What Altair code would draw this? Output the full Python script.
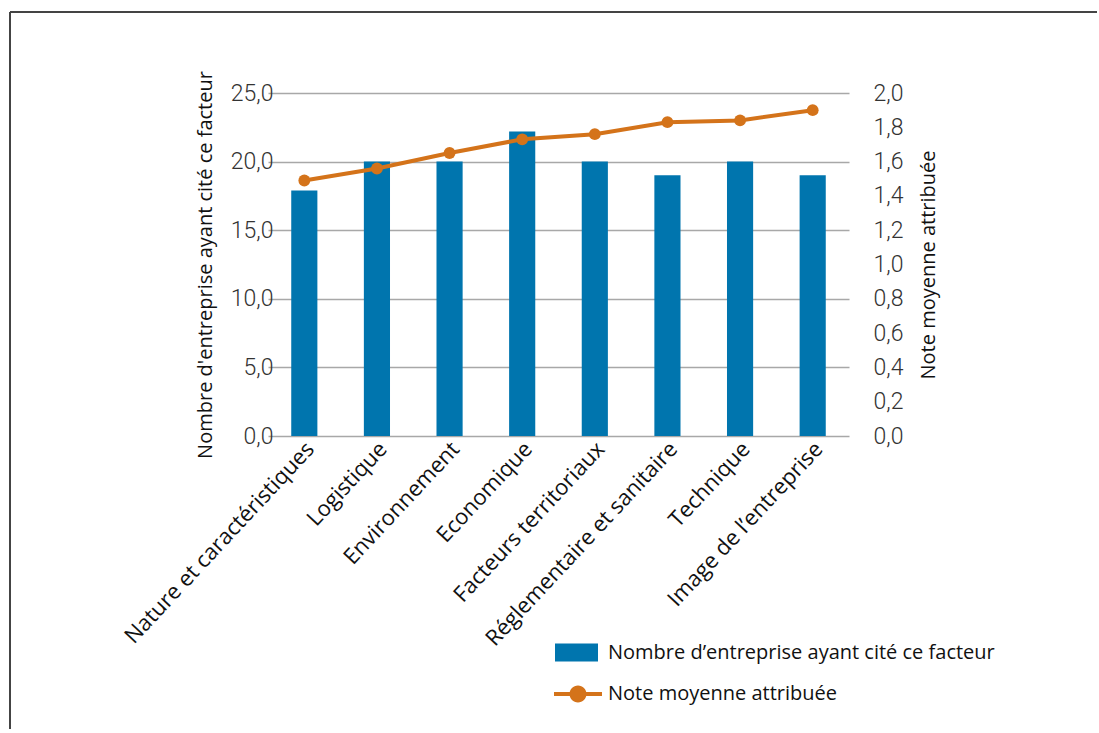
import altair as alt
import pandas as pd

categories = [
    "Nature et caractéristiques",
    "Logistique",
    "Environnement",
    "Economique",
    "Facteurs territoriaux",
    "Réglementaire et sanitaire",
    "Technique",
    "Image de l’entreprise",
]
counts = [17.9, 20.0, 20.0, 22.2, 20.0, 19.0, 20.0, 19.0]
notes = [1.49, 1.56, 1.65, 1.73, 1.76, 1.83, 1.84, 1.90]
left_ticks = [0, 5, 10, 15, 20, 25]
right_ticks = [0, 0.2, 0.4, 0.6, 0.8, 1.0, 1.2, 1.4, 1.6, 1.8, 2.0]
bar_label = "Nombre d’entreprise ayant cité ce facteur"
line_label = "Note moyenne attribuée"
left_title = "Nombre d'entreprise ayant cité ce facteur"
right_title = "Note moyenne attribuée"

df = pd.DataFrame({"cat": categories, "count": counts, "note": notes,
                   "s1": bar_label, "s2": line_label})
one = pd.DataFrame({"a": [0]})

BLUE = "#0075AE"
ORANGE = "#D4731A"
NUM_FONT = "Roboto"
TXT_FONT = "Open Sans"
fmt = "replace(format(datum.value, '.1f'), '.', ',')"

x = alt.X("cat:N", sort=categories, title=None,
          scale=alt.Scale(range=[-14, 567], paddingInner=0.64, paddingOuter=0.32),
          axis=alt.Axis(labelAngle=313, labelFont=TXT_FONT, labelFontSize=22,
                        labelColor="#111", domain=False, ticks=False,
                        labelPadding=9, labelOffset=6, labelLimit=400))

bars = alt.Chart(df).mark_bar().encode(
    x=x,
    y=alt.Y("count:Q", scale=alt.Scale(domain=[0, 25]),
            axis=alt.Axis(values=left_ticks, labelExpr=fmt, title=left_title,
                          grid=True, gridColor="#a8a8a8", gridWidth=1.5,
                          domain=False, ticks=False, labelFont=NUM_FONT,
                          labelFontSize=23, labelFontWeight=300,
                          labelColor="#333", labelPadding=9,
                          titleFont=TXT_FONT, titleFontSize=20,
                          titleFontWeight="normal", titleColor="#111",
                          titlePadding=15)),
    color=alt.Color("s1:N", scale=alt.Scale(domain=[bar_label], range=[BLUE]),
                    legend=alt.Legend(title=None, orient="none", legendX=273,
                                      legendY=538, padding=0,
                                      symbolType="M-1,-0.42H1V0.42H-1Z",
                                      symbolSize=1849, symbolStrokeWidth=0,
                                      labelFont=TXT_FONT, labelFontSize=20,
                                      labelColor="#111", labelOffset=10,
                                      labelLimit=600)),
)

line = alt.Chart(df).mark_line(color=ORANGE, strokeWidth=4).encode(
    x=x,
    y=alt.Y("note:Q", scale=alt.Scale(domain=[0, 2]),
            axis=alt.Axis(orient="right", values=right_ticks, labelExpr=fmt,
                          title=right_title, grid=False, domain=False,
                          ticks=False, labelFont=NUM_FONT, labelFontSize=23,
                          labelFontWeight=300,
                          labelColor="#333", labelPadding=10,
                          titleFont=TXT_FONT, titleFontSize=20,
                          titleFontWeight="normal", titleColor="#111",
                          titleAngle=270, titleBaseline="bottom",
                          titlePadding=36)),
)

points = alt.Chart(df).mark_circle(size=140, opacity=1).encode(
    x=x,
    y=alt.Y("note:Q", scale=alt.Scale(domain=[0, 2]), axis=None),
    color=alt.Color("s2:N", scale=alt.Scale(domain=[line_label], range=[ORANGE]),
                    legend=alt.Legend(title=None, orient="none", legendX=272,
                                      legendY=577, padding=0,
                                      symbolType="M-1,-0.085H1V0.085H-1Z M0.354,0A0.354,0.354 0 1,1 -0.354,0A0.354,0.354 0 1,1 0.354,0Z",
                                      symbolSize=2304, symbolStrokeWidth=0,
                                      labelFont=TXT_FONT, labelFontSize=20,
                                      labelColor="#111", labelOffset=6,
                                      labelLimit=600)),
)

top_rule = alt.Chart(one).mark_rule(color="#444", strokeWidth=2).encode(
    x=alt.value(-272), x2=alt.value(815), y=alt.value(-81))
left_rule = alt.Chart(one).mark_rule(color="#444", strokeWidth=2).encode(
    x=alt.value(-272), y=alt.value(-81), y2=alt.value(636))

chart = alt.layer(top_rule, left_rule, bars, line, points).resolve_scale(
    y="independent", color="independent"
).properties(
    width=581, height=343,
    padding={"left": 9, "top": 11, "right": 0, "bottom": 0},
    background="white",
).configure_view(stroke=None)

chart.save("out.html", embed_options={"renderer": "svg", "actions": False})
